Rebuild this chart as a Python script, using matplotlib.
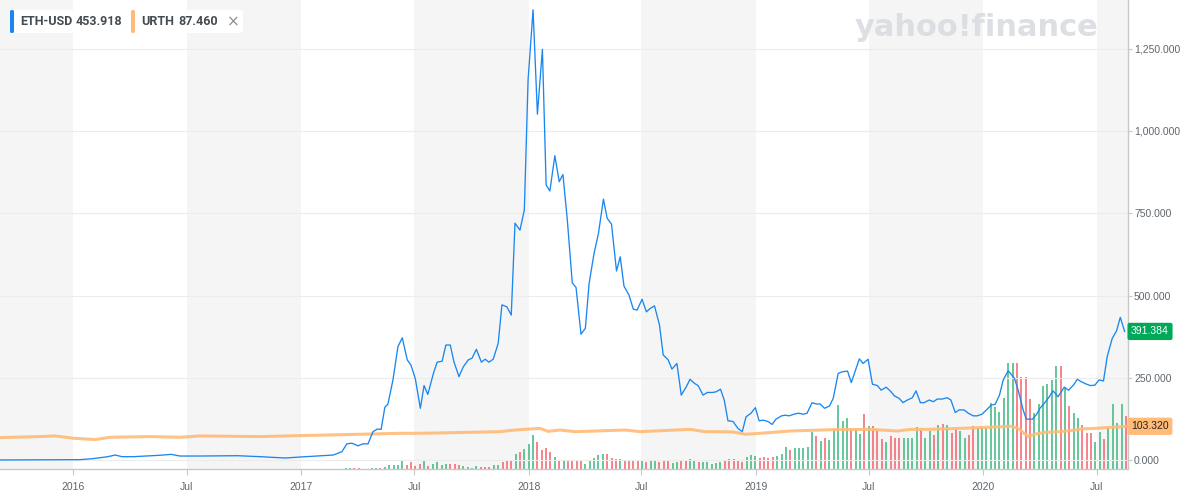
import pandas as pd
import matplotlib.pyplot as plt
import matplotlib.ticker as mticker
from matplotlib.patches import FancyBboxPatch

# ETH-USD weekly close
eth_dates = [
    "2015-09-05", "2016-01-11", "2016-02-01", "2016-02-25", "2016-03-08", "2016-03-19",
    "2016-04-06", "2016-04-25", "2016-05-16", "2016-06-06", "2016-06-20", "2016-07-22",
    "2016-09-20", "2016-10-27", "2016-12-06", "2016-12-30", "2017-02-21", "2017-03-07",
    "2017-03-15", "2017-03-23", "2017-04-02", "2017-04-10", "2017-04-18", "2017-04-26",
    "2017-05-03", "2017-05-09", "2017-05-15", "2017-05-20", "2017-05-28", "2017-06-05",
    "2017-06-12", "2017-06-20", "2017-06-26", "2017-07-03", "2017-07-11", "2017-07-17",
    "2017-07-23", "2017-08-01", "2017-08-07", "2017-08-15", "2017-08-21", "2017-08-28",
    "2017-09-03", "2017-09-11", "2017-09-18", "2017-09-26", "2017-10-02", "2017-10-09",
    "2017-10-17", "2017-10-23", "2017-10-29", "2017-11-05", "2017-11-13", "2017-11-19",
    "2017-11-27", "2017-12-04", "2017-12-10", "2017-12-18", "2017-12-25", "2017-12-31",
    "2018-01-08", "2018-01-15", "2018-01-23", "2018-01-29", "2018-02-04", "2018-02-12",
    "2018-02-19", "2018-02-25", "2018-03-04", "2018-03-12", "2018-03-18", "2018-03-26",
    "2018-04-02", "2018-04-08", "2018-04-16", "2018-04-23", "2018-05-01", "2018-05-07",
    "2018-05-14", "2018-05-22", "2018-05-28", "2018-06-03", "2018-06-11", "2018-06-18",
    "2018-06-24", "2018-07-02", "2018-07-09", "2018-07-15", "2018-07-22", "2018-07-30",
    "2018-08-05", "2018-08-13", "2018-08-19", "2018-08-27", "2018-09-03", "2018-09-11",
    "2018-09-17", "2018-09-24", "2018-09-30", "2018-10-08", "2018-10-15", "2018-10-23",
    "2018-10-29", "2018-11-05", "2018-11-11", "2018-11-17", "2018-11-25", "2018-12-03",
    "2018-12-10", "2018-12-16", "2018-12-24", "2018-12-31", "2019-01-06", "2019-01-13",
    "2019-01-21", "2019-01-27", "2019-02-02", "2019-02-11", "2019-02-17", "2019-02-23",
    "2019-03-03", "2019-03-10", "2019-03-18", "2019-03-24", "2019-04-01", "2019-04-08",
    "2019-04-14", "2019-04-21", "2019-04-29", "2019-05-05", "2019-05-13", "2019-05-20",
    "2019-05-28", "2019-06-03", "2019-06-09", "2019-06-16", "2019-06-22", "2019-06-30",
    "2019-07-07", "2019-07-15", "2019-07-21", "2019-07-29", "2019-08-05", "2019-08-11",
    "2019-08-19", "2019-08-25", "2019-09-01", "2019-09-09", "2019-09-15", "2019-09-22",
    "2019-09-28", "2019-10-06", "2019-10-13", "2019-10-19", "2019-10-27", "2019-11-04",
    "2019-11-10", "2019-11-17", "2019-11-23", "2019-12-01", "2019-12-08", "2019-12-16",
    "2019-12-22", "2019-12-30", "2020-01-06", "2020-01-14", "2020-01-20", "2020-01-27",
    "2020-02-02", "2020-02-10", "2020-02-20", "2020-02-26", "2020-03-05", "2020-03-10",
    "2020-03-20", "2020-03-26", "2020-04-01", "2020-04-08", "2020-04-16", "2020-04-22",
    "2020-04-30", "2020-05-10", "2020-05-17", "2020-05-25", "2020-05-31", "2020-06-06",
    "2020-06-15", "2020-06-21", "2020-06-28", "2020-07-05", "2020-07-12", "2020-07-18",
    "2020-07-26", "2020-08-02", "2020-08-08", "2020-08-15",
]
eth_close = [
    1, 2, 5, 11, 16, 11,
    11, 13, 15, 18, 13, 13,
    14, 11, 7, 10, 16, 26,
    50, 52, 44, 50, 50, 87,
    95, 94, 161, 171, 244, 345,
    372, 305, 289, 247, 158, 227,
    200, 264, 298, 301, 350, 350,
    299, 254, 284, 305, 310, 337,
    298, 307, 298, 307, 355, 472,
    466, 441, 720, 699, 760, 1155,
    1368, 1051, 1248, 836, 818, 925,
    846, 868, 730, 539, 525, 383,
    401, 537, 629, 689, 793, 735,
    717, 575, 618, 529, 502, 459,
    456, 489, 451, 461, 469, 411,
    320, 305, 277, 294, 198, 223,
    246, 234, 227, 198, 206, 206,
    208, 216, 183, 120, 118, 97,
    87, 132, 143, 160, 120, 122,
    117, 109, 125, 135, 137, 135,
    140, 143, 140, 143, 175, 171,
    171, 158, 165, 188, 264, 269,
    271, 236, 269, 308, 294, 307,
    231, 227, 213, 222, 210, 196,
    188, 175, 183, 190, 211, 175,
    175, 183, 178, 186, 186, 190,
    183, 145, 153, 153, 143, 135,
    135, 140, 153, 168, 170, 198,
    244, 272, 249, 213, 153, 125,
    125, 138, 158, 173, 193, 211,
    193, 222, 213, 229, 246, 239,
    231, 227, 228, 244, 241, 315,
    370, 393, 434, 391.384,
]

# URTH close
urth_dates = [
    "2015-09-05", "2015-11-08", "2015-12-02", "2016-01-01", "2016-02-05", "2016-02-29",
    "2016-05-03", "2016-06-20", "2016-07-22", "2016-10-27", "2016-12-30", "2017-02-16",
    "2017-06-09", "2017-07-11", "2017-09-29", "2017-11-16", "2017-12-10", "2018-01-03",
    "2018-01-19", "2018-02-01", "2018-02-20", "2018-03-17", "2018-04-18", "2018-06-05",
    "2018-06-29", "2018-09-17", "2018-10-11", "2018-10-27", "2018-11-25", "2018-12-15",
    "2019-01-08", "2019-02-25", "2019-05-05", "2019-07-03", "2019-08-16", "2019-09-06",
    "2019-10-06", "2019-11-25", "2020-01-04", "2020-02-02", "2020-02-13", "2020-02-26",
    "2020-03-13", "2020-03-25", "2020-04-10", "2020-05-04", "2020-05-28", "2020-06-05",
    "2020-06-29", "2020-08-20",
]
urth_close = [
    69, 72, 74, 67, 63, 70,
    72, 70, 74, 72, 75, 77,
    82, 82, 85, 87, 92, 95,
    97, 88, 92, 87, 89, 92,
    87, 94, 87, 87, 86, 79,
    82, 89, 93, 94, 89, 94,
    94, 97, 100, 102, 104, 97,
    72, 80, 85, 87, 92, 95,
    97, 103.32,
]

# weekly volume bars (relative height), first bar week of 2017-03-13
vol_start = "2017-03-13"
volume = [
    1.7, 1.7, 1.7, 1.7, 0, 0, 1.7, 1.7, 1.7, 2.3,
    4.3, 4.3, 4.3, 8, 4.3, 7.3, 3.3, 5.3, 8, 3.3,
    5.7, 7, 4.3, 5.3, 5.3, 5.3, 4.3, 3.3, 2.3, 1.7,
    3.3, 2.3, 2.3, 2.3, 4.3, 4.3, 7, 8, 9.3, 15.3,
    17.3, 20, 25, 34.3, 27.3, 19.3, 21.3, 17.3, 12, 9.3,
    9.3, 8.7, 8.7, 8.7, 8.7, 5.3, 8.7, 11.3, 14.5, 15,
    15, 11.7, 10.7, 10, 9, 9, 9, 9, 8, 7.3,
    9, 9, 7.3, 8.3, 9.3, 6, 7.3, 8.3, 9, 10,
    9, 7.3, 7, 7.7, 5.3, 6.3, 7.3, 9.3, 10.3, 10.7,
    9.3, 7.3, 12.3, 14.3, 13.7, 11.7, 12.7, 11.7, 12.7, 13.7,
    15.7, 22.7, 19.3, 21.7, 21.7, 21.7, 22.7, 37.7, 33.3, 28.7,
    31.7, 29.7, 40.3, 64.3, 48.7, 51.3, 40.3, 40.3, 35.3, 55.7,
    43.3, 43.3, 40.3, 30.3, 27.7, 33.3, 31.7, 31, 31, 31,
    31, 42.3, 40.3, 31.3, 38.7, 34, 44.3, 45.3, 44.3, 36.7,
    40.3, 38.3, 31.7, 34.3, 43.3, 41.7, 41, 41.7, 66, 62,
    57.7, 71.7, 106.7, 106.7, 106.7, 92.7, 92.7, 70, 56.7, 65,
    83.7, 85.3, 89.3, 103.7, 103.7, 82.7, 63.3, 56, 51.7, 44.3,
    36, 36, 27.7, 37, 30, 42.7, 65.3, 46, 65.3, 53.3,
]
# g = up week, r = down week
vol_dir = "".join([
    "ggrrggggrg", "ggggrrrrgr", "ggggrrrggg", "grrrggrrrg", "rgggrrrrgr",
    "grrrrggggg", "rrrgrrrrgr", "ggrrrggrrg", "grgggggrrr", "rrgggrrrrg",
    "ggrgggggrg", "rgggggrggr", "grrrgrrrgg", "ggrggrgrgr", "rggrrggggg",
    "ggggrrrrgg", "ggggrgrggr", "rrggrggggr",
])

eth_color = "#1a87f0"
urth_color = "#ffbb77"
green = "#3bb77e"
red = "#f4606a"
grey_txt = "#5f666d"

x_min = pd.Timestamp("2015-09-05")
x_max = pd.Timestamp("2020-08-20")

eth = pd.Series(eth_close, index=pd.to_datetime(eth_dates))
urth = pd.Series(urth_close, index=pd.to_datetime(urth_dates))
vol_idx = pd.date_range(vol_start, periods=len(volume), freq="7D")
vol_colors = [green if c == "g" else red for c in vol_dir]

fig = plt.figure(figsize=(11.9, 5), dpi=100)
ax = fig.add_axes([0, 0.0614, 0.9477, 0.9386])
axv = ax.twinx()
axv.set_zorder(0)
ax.set_zorder(1)
ax.patch.set_visible(False)

# alternating half-year bands
band_edges = pd.to_datetime(["2015-09-01", "2016-01-01", "2016-07-01", "2017-01-01",
                             "2017-07-01", "2018-01-01", "2018-07-01", "2019-01-01",
                             "2019-07-01", "2020-01-01", "2020-07-01", "2020-09-01"])
for i in range(0, len(band_edges) - 1, 2):
    axv.axvspan(band_edges[i], band_edges[i + 1], color="#f5f5f5", lw=0, zorder=0)

axv.vlines(vol_idx, 0, volume, colors=vol_colors, lw=1.1, zorder=2)
axv.set_ylim(0, 469.3)
axv.set_yticks([])
axv.set_xlim(x_min, x_max)
for s in axv.spines.values():
    s.set_visible(False)

ax.plot(urth.index, urth.values, color=urth_color, lw=2.2, alpha=0.9, zorder=3)
ax.plot(eth.index, eth.values, color=eth_color, lw=0.95, zorder=4)

ax.set_xlim(x_min, x_max)
ax.set_ylim(-27.3, 1397.8)
ax.yaxis.tick_right()
ax.set_yticks([0, 250, 500, 750, 1000, 1250])
ax.yaxis.set_major_formatter(mticker.FuncFormatter(lambda v, p: f"{v:,.3f}"))
ax.grid(axis="y", color="#ececec", lw=0.8, zorder=1)
ax.set_axisbelow(True)

xt = pd.to_datetime(["2016-01-01", "2016-07-01", "2017-01-01", "2017-07-01", "2018-01-01",
                     "2018-07-01", "2019-01-01", "2019-07-01", "2020-01-01", "2020-07-01"])
ax.set_xticks(xt)
ax.set_xticklabels([str(d.year) if d.month == 1 else "Jul" for d in xt])

ax.tick_params(axis="x", colors="#c8c8c8", labelcolor=grey_txt, labelsize=7.5, length=4, pad=5)
ax.tick_params(axis="y", colors="#c8c8c8", labelcolor=grey_txt, labelsize=7.5, length=3, pad=1.5)
for lab in ax.get_xticklabels() + ax.get_yticklabels():
    lab.set_family("Liberation Sans")
for k in ["top", "left"]:
    ax.spines[k].set_visible(False)
for k in ["right", "bottom"]:
    ax.spines[k].set_color("#c8c8c8")
    ax.spines[k].set_linewidth(1)

# last-value tags on the right axis
ax.text(1.003, eth.values[-1], f"{eth.values[-1]:.3f}", transform=ax.get_yaxis_transform(),
        va="center", ha="left", fontsize=7.5, color="white", family="Liberation Sans",
        bbox=dict(boxstyle="round,pad=0.35,rounding_size=0.2", fc="#00a85a", ec="none"), zorder=6)
ax.text(1.003, urth.values[-1], f"{urth.values[-1]:.3f}", transform=ax.get_yaxis_transform(),
        va="center", ha="left", fontsize=7.5, color="#222222", family="Liberation Sans",
        bbox=dict(boxstyle="round,pad=0.35,rounding_size=0.2", fc="#ffbb77", ec="none"), zorder=6)

# watermark
fig.text(0.7185, 0.928, "yahoo!finance", fontsize=22, fontweight="bold",
         color="#d9dce0", alpha=0.9, family="DejaVu Sans", va="baseline", ha="left")

# legend chips
W, H = 1190.0, 500.0
def chip(x0, x1, color):
    box = FancyBboxPatch((x0 / W, 1 - 33 / H), (x1 - x0) / W, 23 / H,
                         boxstyle="round,pad=0,rounding_size=0.004",
                         transform=fig.transFigure, fc="white", ec="none", zorder=5)
    fig.add_artist(box)
    bar = FancyBboxPatch((x0 / W, 1 - 33 / H), 4 / W, 23 / H,
                         boxstyle="round,pad=0,rounding_size=0.002",
                         transform=fig.transFigure, fc=color, ec="none", zorder=6)
    fig.add_artist(bar)

chip(10, 128, eth_color)
chip(131, 243, urth_color)
leg_kw = dict(fontsize=9, fontweight="bold", color="#454b52", family="Roboto",
              va="center", zorder=8)
fig.text(20 / W, 1 - 21.5 / H, "ETH-USD", **leg_kw)
fig.text(76 / W, 1 - 21.5 / H, "453.918", **leg_kw)
fig.text(141 / W, 1 - 21.5 / H, "URTH", **leg_kw)
fig.text(178 / W, 1 - 21.5 / H, "87.460", **leg_kw)
fig.text(227 / W, 1 - 21.5 / H, "\u00d7", fontsize=11, color="#8a9096", va="center", zorder=8)

plt.savefig("out.png", dpi=100)
